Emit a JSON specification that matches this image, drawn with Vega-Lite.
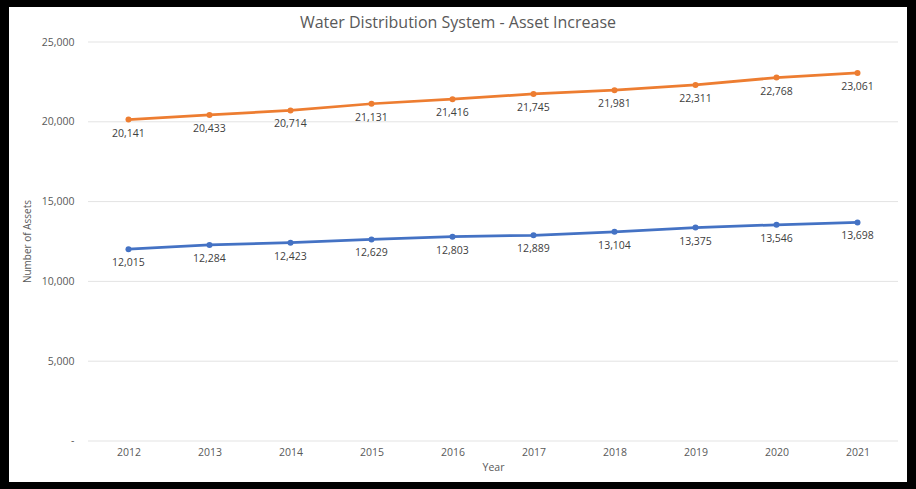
{
  "$schema": "https://vega.github.io/schema/vega-lite/v6.json",
  "width": 898,
  "height": 475,
  "autosize": {"type": "none"},
  "padding": {"left": 9, "top": 7, "right": 9, "bottom": 7},
  "background": "#000000",
  "config": {
    "view": {"fill": "#ffffff", "stroke": null},
    "font": "Open Sans"
  },
  "title": {
    "text": "Water Distribution System - Asset Increase",
    "fontSize": 16,
    "fontWeight": "normal",
    "color": "#595959",
    "anchor": "middle",
    "frame": "group",
    "baseline": "middle",
    "offset": -32
  },
  "datasets": {
    "assets": [
      {"year": 2012, "series": "Series 1", "value": 12015},
      {"year": 2013, "series": "Series 1", "value": 12284},
      {"year": 2014, "series": "Series 1", "value": 12423},
      {"year": 2015, "series": "Series 1", "value": 12629},
      {"year": 2016, "series": "Series 1", "value": 12803},
      {"year": 2017, "series": "Series 1", "value": 12889},
      {"year": 2018, "series": "Series 1", "value": 13104},
      {"year": 2019, "series": "Series 1", "value": 13375},
      {"year": 2020, "series": "Series 1", "value": 13546},
      {"year": 2021, "series": "Series 1", "value": 13698},
      {"year": 2012, "series": "Series 2", "value": 20141},
      {"year": 2013, "series": "Series 2", "value": 20433},
      {"year": 2014, "series": "Series 2", "value": 20714},
      {"year": 2015, "series": "Series 2", "value": 21131},
      {"year": 2016, "series": "Series 2", "value": 21416},
      {"year": 2017, "series": "Series 2", "value": 21745},
      {"year": 2018, "series": "Series 2", "value": 21981},
      {"year": 2019, "series": "Series 2", "value": 22311},
      {"year": 2020, "series": "Series 2", "value": 22768},
      {"year": 2021, "series": "Series 2", "value": 23061}
    ],
    "grid": [
      {"year": 2011.5, "year_end": 2021.5, "value": 0},
      {"year": 2011.5, "year_end": 2021.5, "value": 5000},
      {"year": 2011.5, "year_end": 2021.5, "value": 10000},
      {"year": 2011.5, "year_end": 2021.5, "value": 15000},
      {"year": 2011.5, "year_end": 2021.5, "value": 20000},
      {"year": 2011.5, "year_end": 2021.5, "value": 25000}
    ]
  },
  "encoding": {
    "x": {
      "field": "year",
      "type": "quantitative",
      "scale": {"domain": [2010.525, 2021.611], "nice": false, "zero": false},
      "axis": {
        "title": "Year",
        "values": [2012, 2013, 2014, 2015, 2016, 2017, 2018, 2019, 2020, 2021],
        "format": "d",
        "grid": false,
        "domain": false,
        "ticks": false,
        "tickSize": 0,
        "offset": -41,
        "labelPadding": 6,
        "labelFontSize": 10.5,
        "labelColor": "#595959",
        "labelFlush": false,
        "labelOverlap": false,
        "titleFontSize": 10.5,
        "titleFontWeight": "normal",
        "titleColor": "#595959",
        "titleX": 484,
        "titleY": 21
      }
    },
    "y": {
      "field": "value",
      "type": "quantitative",
      "scale": {"domain": [-2569, 27193], "nice": false, "zero": false},
      "axis": {
        "title": "Number of Assets",
        "values": [0, 5000, 10000, 15000, 20000, 25000],
        "labelExpr": "datum.value == 0 ? '-\u00a0\u00a0' : format(datum.value, ',')",
        "grid": false,
        "domain": false,
        "ticks": false,
        "tickSize": 0,
        "offset": -65,
        "labelPadding": 0,
        "labelFontSize": 10.5,
        "labelColor": "#595959",
        "labelFlush": false,
        "labelOverlap": false,
        "titleFontSize": 10,
        "titleFontWeight": "normal",
        "titleColor": "#595959",
        "titleX": -47,
        "titleY": 234,
        "titleBaseline": "middle",
        "titleAlign": "center"
      }
    }
  },
  "layer": [
    {
      "data": {"name": "grid"},
      "mark": {"type": "rule", "color": "#e3e3e3", "strokeWidth": 1},
      "encoding": {"x2": {"field": "year_end"}}
    },
    {
      "data": {"name": "assets"},
      "mark": {"type": "line", "strokeWidth": 2.75},
      "encoding": {
        "color": {
          "field": "series",
          "type": "nominal",
          "scale": {"domain": ["Series 1", "Series 2"], "range": ["#4472C4", "#ED7D31"]},
          "legend": null
        }
      }
    },
    {
      "data": {"name": "assets"},
      "mark": {"type": "point", "filled": true, "size": 36, "opacity": 1},
      "encoding": {
        "color": {"field": "series", "type": "nominal", "legend": null}
      }
    },
    {
      "data": {"name": "assets"},
      "mark": {"type": "text", "dy": 14, "baseline": "middle", "fontSize": 10.5, "color": "#404040"},
      "encoding": {
        "text": {"field": "value", "type": "quantitative", "format": ","}
      }
    }
  ]
}
